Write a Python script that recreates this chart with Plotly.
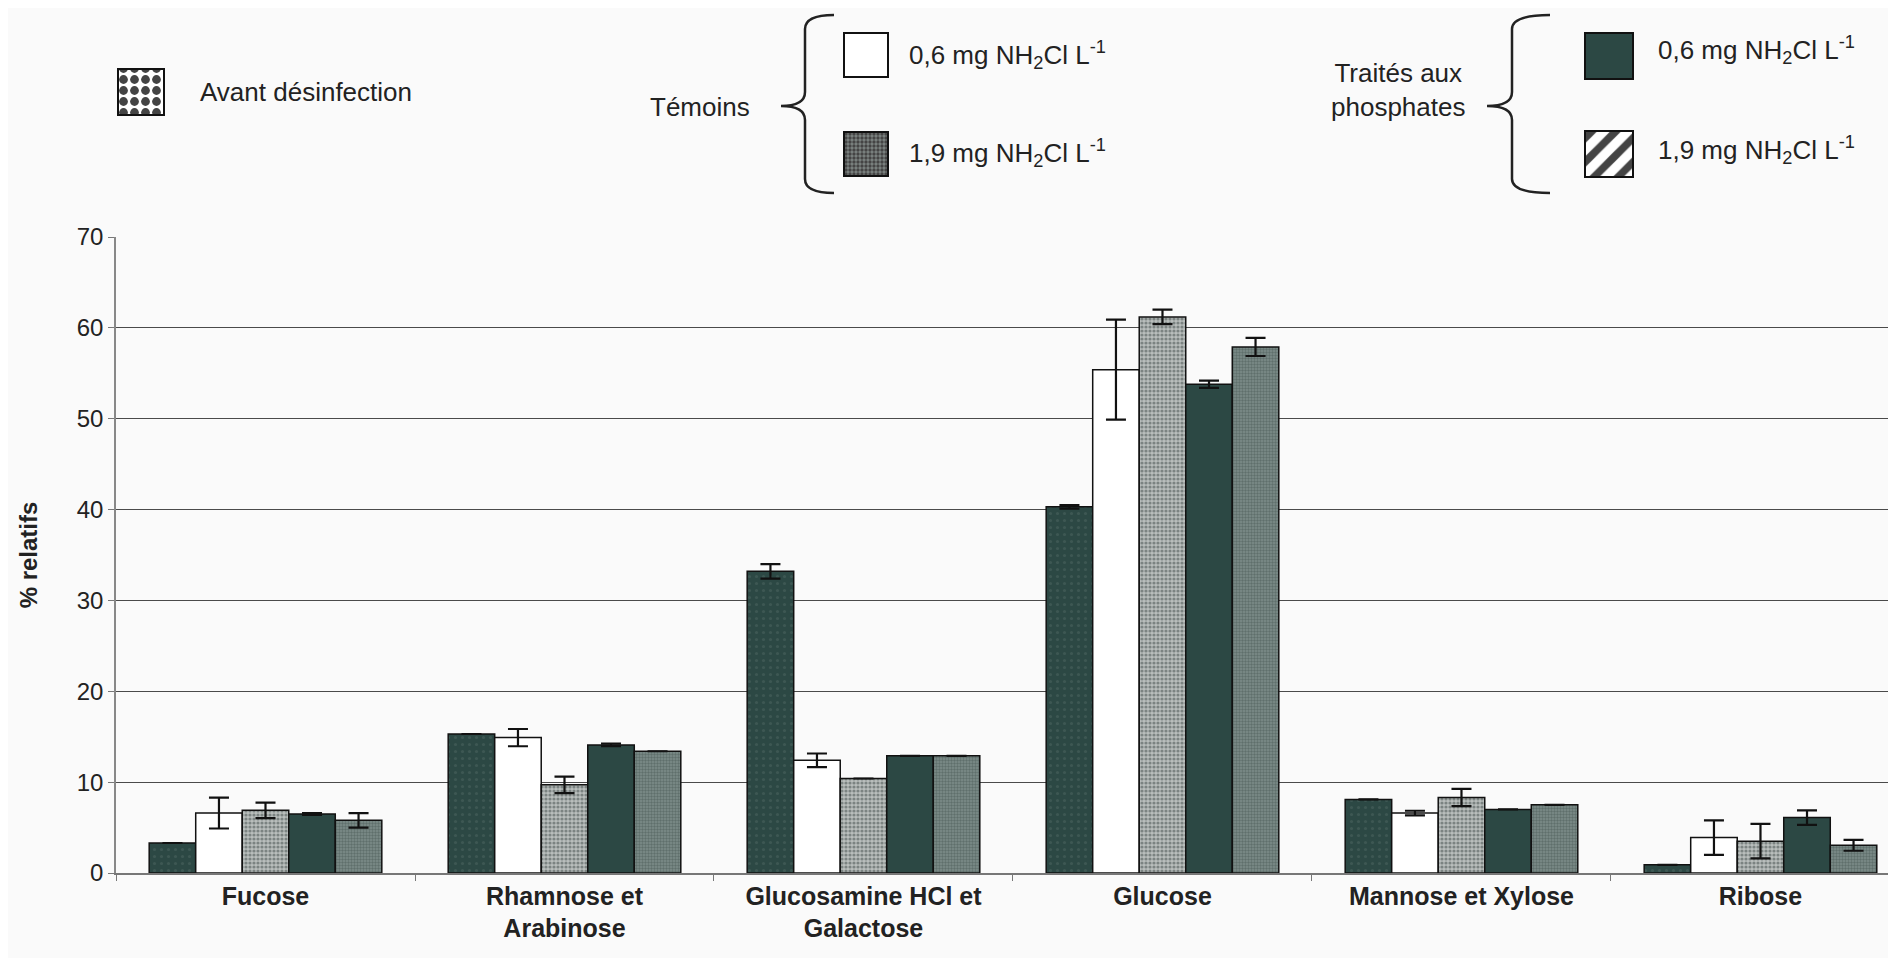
import plotly.graph_objects as go

W, H = 1896, 958
OX, OY = 8, 8  # page body margin offset

categories = ["Fucose", "Rhamnose et<br>Arabinose", "Glucosamine HCl et<br>Galactose",
              "Glucose", "Mannose et Xylose", "Ribose"]
avant = [3.3, 15.3, 33.2, 40.3, 8.1, 0.9]
avant_err = [0, 0, 0.8, 0.2, 0, 0]
tem06 = [6.6, 14.9, 12.4, 55.4, 6.6, 3.9]
tem06_err = [1.7, 0.95, 0.75, 5.5, 0.25, 1.9]
tem19 = [6.9, 9.7, 10.4, 61.2, 8.3, 3.5]
tem19_err = [0.85, 0.9, 0, 0.8, 0.95, 1.9]
pho06 = [6.5, 14.1, 12.9, 53.8, 7.0, 6.1]
pho06_err = [0.1, 0.15, 0, 0.4, 0, 0.8]
pho19 = [5.8, 13.4, 12.9, 57.9, 7.5, 3.05]
pho19_err = [0.8, 0, 0, 1.0, 0, 0.6]
y_ticks = [0, 10, 20, 30, 40, 50, 60, 70]

DARK = "#2c4844"
FONT = "Liberation Sans, Arial, sans-serif"
BG = "#fafafa"

series = [
    ("Avant désinfection", avant, avant_err,
     dict(color=DARK, pattern=dict(shape=".", fgcolor="#4d6662", bgcolor=DARK, size=7, solidity=0.15))),
    ("Témoins 0,6", tem06, tem06_err, dict(color="white")),
    ("Témoins 1,9", tem19, tem19_err,
     dict(color="#8d9492", pattern=dict(shape=".", fgcolor="#3d4846", bgcolor="#b9bebc", size=4, solidity=0.5))),
    ("Phosphates 0,6", pho06, pho06_err, dict(color=DARK)),
    ("Phosphates 1,9", pho19, pho19_err,
     dict(color="#5f706c", pattern=dict(shape=".", fgcolor="#3f524e", bgcolor="#7e8d8a", size=3, solidity=0.5))),
]

fig = go.Figure()
for name, vals, errs, mk in series:
    mk = dict(mk)
    mk["line"] = dict(color="#111111", width=1.5)
    fig.add_trace(go.Bar(
        x=categories, y=vals, name=name, marker=mk,
        error_y=dict(type="data", array=errs, visible=True, color="#111111",
                     thickness=2.2, width=10),
        showlegend=False, xaxis="x", yaxis="y"))

# ---- legend swatches: one bar trace on a pixel-based overlay axis ----
def px(x):
    return (x - OX) / W

def py(y):
    return 1 - (y - OY) / H

sw_cx = [141, 866, 866, 1609, 1609]
sw_top = [69, 33, 132, 33, 131]
sw_w = [46, 44, 44, 48, 48]
sw_h = [46, 44, 44, 46, 46]
sw_color = ["white", "white", "#7d8482", DARK, "white"]
sw_shape = [".", "", ".", "", "/"]
sw_fg = ["#000000", "#111111", "#2d3836", "#111111", "#000000"]
sw_bg = ["white", "white", "#a9aeac", DARK, "white"]
sw_size = [11, 8, 4, 8, 17]
sw_sol = [0.5, 0.3, 0.55, 0.3, 0.45]

fig.add_trace(go.Bar(
    x=[c - OX for c in sw_cx], y=sw_h, base=[t - OY for t in sw_top], width=sw_w,
    marker=dict(color=sw_color, line=dict(color="#111111", width=2),
                pattern=dict(shape=sw_shape, fgcolor=sw_fg, bgcolor=sw_bg,
                             size=sw_size, solidity=sw_sol, fgopacity=1)),
    showlegend=False, hoverinfo="skip", xaxis="x2", yaxis="y2"))

annots = [
    dict(x=px(198), y=py(92), text="Avant désinfection", xanchor="left"),
    dict(x=px(752), y=py(107), text="Témoins", xanchor="right"),
    dict(x=px(907), y=py(55), text="0,6 mg NH<sub>2</sub>Cl L<sup>-1</sup>", xanchor="left"),
    dict(x=px(907), y=py(153), text="1,9 mg NH<sub>2</sub>Cl L<sup>-1</sup>", xanchor="left"),
    dict(x=px(1398), y=py(90), text="Traités aux<br>phosphates", xanchor="center"),
    dict(x=px(1656), y=py(50), text="0,6 mg NH<sub>2</sub>Cl L<sup>-1</sup>", xanchor="left"),
    dict(x=px(1656), y=py(150), text="1,9 mg NH<sub>2</sub>Cl L<sup>-1</sup>", xanchor="left"),
]
annotations = []
for a in annots:
    a.update(xref="paper", yref="paper", yanchor="middle", showarrow=False,
             font=dict(family=FONT, size=26, color="#222222"))
    annotations.append(a)

def brace(xtip, xv, xend, ytop, ymid, ybot, r=14):
    pts = [
        f"M {px(xend)},{py(ytop)}",
        f"Q {px(xv)},{py(ytop)} {px(xv)},{py(ytop + r)}",
        f"L {px(xv)},{py(ymid - r)}",
        f"Q {px(xv)},{py(ymid)} {px(xtip)},{py(ymid)}",
        f"Q {px(xv)},{py(ymid)} {px(xv)},{py(ymid + r)}",
        f"L {px(xv)},{py(ybot - r)}",
        f"Q {px(xv)},{py(ybot)} {px(xend)},{py(ybot)}",
    ]
    return dict(type="path", xref="paper", yref="paper", path=" ".join(pts),
                line=dict(color="#222222", width=2.5))

shapes = [
    brace(781, 805, 834, 15, 106, 193),
    brace(1487, 1512, 1550, 15, 106, 193),
]

x0 = (116 - OX) / W
fig.update_layout(
    width=W, height=H,
    margin=dict(l=0, r=0, t=0, b=0, autoexpand=False),
    paper_bgcolor=BG, plot_bgcolor="rgba(0,0,0,0)",
    barmode="group", bargap=0.222, bargroupgap=0,
    font=dict(family=FONT, size=23, color="#222222"),
    xaxis=dict(domain=[x0, 1], range=[-0.5, 5.48], type="category", automargin=False,
               tickvals=categories, ticktext=[f"<b>{c}</b>" for c in categories],
               showline=True, linecolor="#777777", linewidth=1.5,
               ticks="outside", tickson="boundaries", ticklen=6, tickcolor="#777777",
               tickfont=dict(family=FONT, size=25, color="#222222"),
               showgrid=False),
    yaxis=dict(domain=[py(873), py(237)], range=[0, 70], automargin=False,
               tickvals=y_ticks, showline=True, linecolor="#888888", linewidth=1.5,
               ticks="outside", ticklen=6, tickcolor="#777777",
               showgrid=True, gridcolor="#4a4a4a", gridwidth=1.3,
               zeroline=False,
               tickfont=dict(family=FONT, size=24, color="#222222"),
               title=dict(text="<b>% relatifs</b>", standoff=32,
                          font=dict(family=FONT, size=24, color="#222222"))),
    xaxis2=dict(domain=[0, 1], range=[0, W], visible=False, anchor="y2", fixedrange=True),
    yaxis2=dict(domain=[0, 1], range=[H, 0], visible=False, anchor="x2", fixedrange=True),
    annotations=annotations,
    shapes=shapes,
)

fig.write_html("out.html")
